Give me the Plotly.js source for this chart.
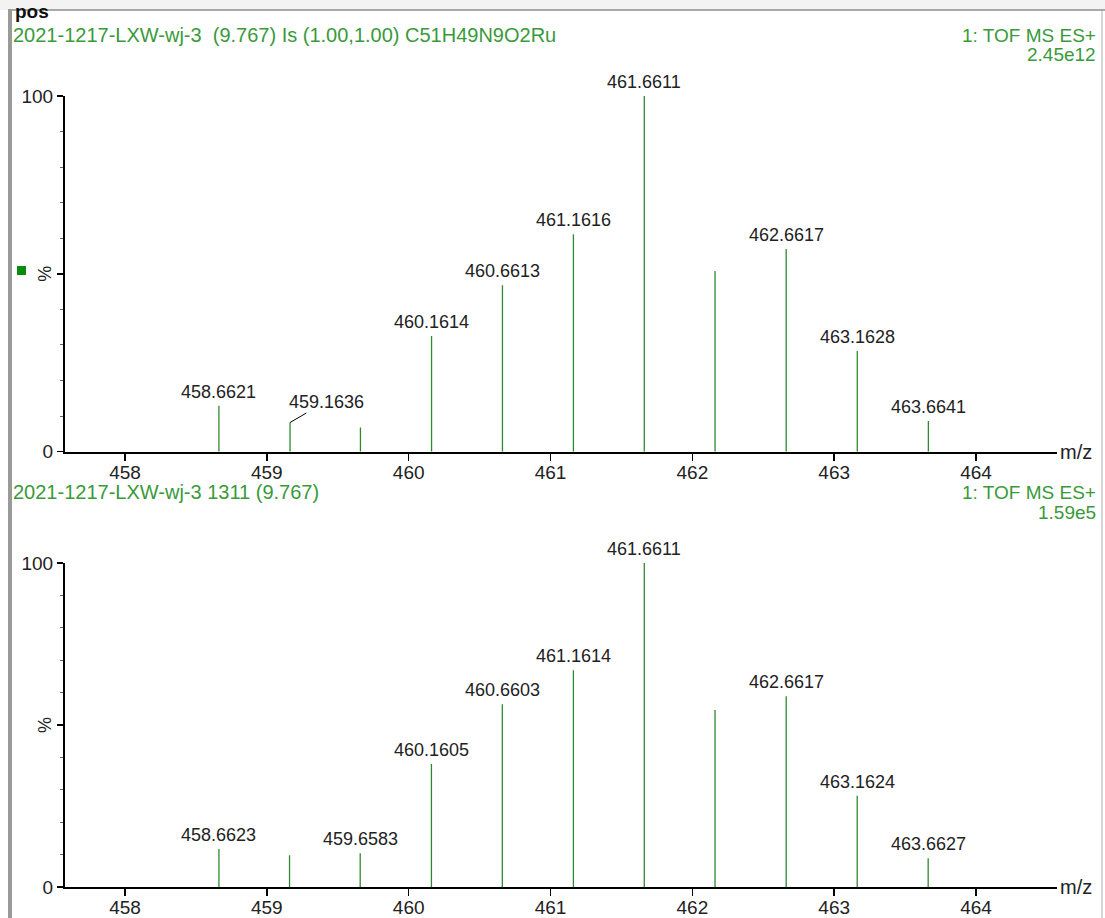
<!DOCTYPE html>
<html>
<head>
<meta charset="utf-8">
<script src="https://cdn.plot.ly/plotly-3.0.1.min.js"></script>
<style>html,body{margin:0;padding:0;background:#fff;}#chart{width:1105px;height:918px;}</style>
</head>
<body>
<div id="chart"></div>
<script>
// ---- data ----
const topMz = [458.6621, 459.1636, 459.66, 460.1614, 460.6613, 461.1616, 461.6611, 462.16, 462.6617, 463.1628, 463.6641];
const topIntensity = [12.9, 8.2, 6.8, 32.5, 46.8, 61.1, 100, 50.8, 57.0, 28.3, 8.6];
const topLabels = ['458.6621', '459.1636', '', '460.1614', '460.6613', '461.1616', '461.6611', '', '462.6617', '463.1628', '463.6641'];

const botMz = [458.6623, 459.16, 459.6583, 460.1605, 460.6603, 461.1614, 461.6611, 462.16, 462.6617, 463.1624, 463.6627];
const botIntensity = [11.7, 9.8, 10.4, 38.0, 56.4, 66.9, 100, 54.6, 58.9, 28.2, 8.9];
const botLabels = ['458.6623', '', '459.6583', '460.1605', '460.6603', '461.1614', '461.6611', '', '462.6617', '463.1624', '463.6627'];

const xTicks = [458, 459, 460, 461, 462, 463, 464];
const yTickVals = [0, 50, 100];
const yTickText = ['0', '', '100'];

const topHeader = '2021-1217-LXW-wj-3  (9.767) Is (1.00,1.00) C51H49N9O2Ru';
const botHeader = '2021-1217-LXW-wj-3 1311 (9.767)';
const topRight = ['1: TOF MS ES+', '2.45e12'];
const botRight = ['1: TOF MS ES+', '1.59e5'];

// ---- layout helpers ----
const W = 1105, H = 918;
const px = v => v / W;
const py = v => 1 - v / H;
const FONT = 'Liberation Sans, Arial, sans-serif';
const GREEN_LINE = '#2f8a2f';
const GREEN_TEXT = '#3a9a3a';
const TXT = '#222';

function stems(mz, inten, xa, ya) {
  const x = [], y = [];
  mz.forEach((m, i) => { x.push(m, m, null); y.push(0, inten[i], null); });
  return {x, y, xaxis: xa, yaxis: ya, type: 'scatter', mode: 'lines',
    line: {color: GREEN_LINE, width: 1.3}, hoverinfo: 'skip', showlegend: false};
}

const traces = [stems(topMz, topIntensity, 'x', 'y'), stems(botMz, botIntensity, 'x2', 'y2')];

const xRange = [457.577, 464.571];
function xAxis(anchor) {
  return {domain: [px(65), px(1057)], range: xRange, anchor: anchor,
    tickmode: 'array', tickvals: xTicks, ticktext: xTicks.map(String),
    ticks: 'outside', ticklen: 7, tickwidth: 1.5, tickcolor: '#000', ticklabelstandoff: -5,
    showline: true, linecolor: '#000', linewidth: 2, showgrid: false, zeroline: false,
    tickfont: {family: FONT, size: 19, color: TXT}, fixedrange: true};
}
function yAxis(anchor, d0, d1) {
  return {domain: [d0, d1], range: [0, 100], anchor: anchor,
    tickmode: 'array', tickvals: yTickVals, ticktext: yTickText,
    ticks: 'outside', ticklen: 6, tickwidth: 1.5, tickcolor: '#000',
    minor: {tickmode: 'linear', dtick: 10, ticks: 'outside', ticklen: 3, tickcolor: '#666', tickwidth: 1},
    showline: true, linecolor: '#000', linewidth: 2, showgrid: false, zeroline: false,
    tickfont: {family: FONT, size: 19, color: TXT}, fixedrange: true};
}

const annotations = [];
function peakLabels(mz, inten, labels, xr, yr) {
  mz.forEach((m, i) => {
    if (!labels[i]) return;
    const a = {x: m, y: inten[i], xref: xr, yref: yr, text: labels[i], showarrow: false,
      xanchor: 'center', yanchor: 'bottom', yshift: 2,
      font: {family: FONT, size: 18, color: TXT}};
    if (labels[i] === '459.1636') {
      Object.assign(a, {showarrow: true, arrowhead: 0, arrowwidth: 1, arrowcolor: '#000',
        ax: 36, ay: -21, xanchor: 'center', yanchor: 'middle', yshift: 0, standoff: 0});
    }
    annotations.push(a);
  });
}
peakLabels(topMz, topIntensity, topLabels, 'x', 'y');
peakLabels(botMz, botIntensity, botLabels, 'x2', 'y2');

function header(text, yPix) {
  annotations.push({xref: 'paper', yref: 'paper', x: px(11), y: py(yPix), text: text, showarrow: false,
    xanchor: 'left', yanchor: 'middle', font: {family: FONT, size: 20, color: GREEN_TEXT}});
}
function rightText(lines, yPix) {
  lines.forEach((t, i) => annotations.push({xref: 'paper', yref: 'paper', x: px(1098), y: py(yPix + i * 20),
    text: t, showarrow: false, xanchor: 'right', yanchor: 'middle', font: {family: FONT, size: 19, color: GREEN_TEXT}}));
}
header(topHeader, 35);
rightText(topRight, 35);
header(botHeader, 492);
rightText(botRight, 492);

annotations.push({xref: 'paper', yref: 'paper', x: px(13), y: py(12), text: '<b>pos</b>', showarrow: false,
  xanchor: 'left', yanchor: 'middle', font: {family: FONT, size: 19, color: '#111'}});

[['y', 451.7], ['y2', 887]].forEach(([ya, yPix]) => {
  annotations.push({xref: 'paper', yref: ya, x: px(45), y: 50, text: '%', textangle: -90, showarrow: false,
    xanchor: 'center', yanchor: 'middle', font: {family: FONT, size: 18, color: TXT}});
  annotations.push({xref: 'paper', yref: 'paper', x: px(1058), y: py(yPix), text: 'm/z', showarrow: false,
    xanchor: 'left', yanchor: 'middle', font: {family: FONT, size: 20, color: TXT}});
});

const shapes = [
  {type: 'rect', xref: 'paper', yref: 'paper', x0: 0, x1: 1, y0: py(10), y1: 1, fillcolor: '#f3f3f3', line: {width: 0}, layer: 'below'},
  {type: 'line', xref: 'paper', yref: 'paper', x0: px(10), x1: 1, y0: py(10), y1: py(10), line: {color: '#a8a8a8', width: 2}},
  {type: 'rect', xref: 'paper', yref: 'paper', x0: px(8), x1: px(12), y0: 0, y1: py(9), fillcolor: '#9a9a9a', line: {width: 0}},
  {type: 'line', xref: 'paper', yref: 'paper', x0: px(1102), x1: px(1102), y0: 0, y1: py(11), line: {color: '#c8c8c8', width: 1.5}},
  {type: 'rect', xref: 'paper', yref: 'paper', x0: px(17), x1: px(26), y0: py(275), y1: py(266), fillcolor: '#0b8a0b', line: {width: 0}}
];

const layout = {
  width: W, height: H, margin: {l: 0, r: 0, t: 0, b: 0},
  paper_bgcolor: '#fff', plot_bgcolor: 'rgba(0,0,0,0)', showlegend: false,
  xaxis: xAxis('y'), yaxis: yAxis('x', py(451.7), py(96)),
  xaxis2: xAxis('y2'), yaxis2: yAxis('x2', py(887), py(563)),
  annotations: annotations, shapes: shapes
};

Plotly.newPlot('chart', traces, layout, {displayModeBar: false, staticPlot: true});
</script>
</body>
</html>
